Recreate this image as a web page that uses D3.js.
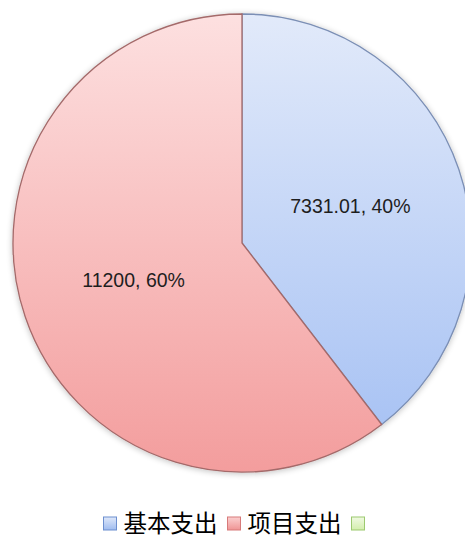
<!DOCTYPE html>
<html>
<head>
<meta charset="utf-8">
<script src="https://cdn.jsdelivr.net/npm/d3@7"></script>
<style>
html,body{margin:0;padding:0;background:#fff;}
svg{display:block;}
</style>
</head>
<body>
<svg id="chart" width="465" height="538"></svg>
<script>
const categories = ["基本支出", "项目支出", ""];
const values = [7331.01, 11200, 0];
const labels = ["7331.01, 40%", "11200, 60%", ""];

const W = 465, H = 538;
const cx = 242, cy = 243, R = 229;

const svg = d3.select("#chart");
const defs = svg.append("defs");

const palettes = [
  {top: "#e2eafa", bottom: "#a3bff3", stroke: "#7b8fb5", lg: ["#dfe8fa", "#9fbcef"], ls: "#6d8fcf"},
  {top: "#fde0e0", bottom: "#f39d9d", stroke: "#a46a6a", lg: ["#fbd0d0", "#ef9494"], ls: "#d77a7a"},
  {top: "#eef8e0", bottom: "#cfeaa8", stroke: "#8fb86a", lg: ["#f0f9e2", "#d3eeac"], ls: "#9cc96f"}
];

palettes.forEach((p, i) => {
  const g = defs.append("linearGradient").attr("id", "sg" + i)
    .attr("gradientUnits", "userSpaceOnUse")
    .attr("x1", 0).attr("y1", -R).attr("x2", 0).attr("y2", R);
  g.append("stop").attr("offset", "0%").attr("stop-color", p.top);
  g.append("stop").attr("offset", "100%").attr("stop-color", p.bottom);
  const lg = defs.append("linearGradient").attr("id", "lg" + i)
    .attr("x1", 0).attr("y1", 0).attr("x2", 0).attr("y2", 1);
  lg.append("stop").attr("offset", "0%").attr("stop-color", p.lg[0]);
  lg.append("stop").attr("offset", "100%").attr("stop-color", p.lg[1]);
});

const f = defs.append("filter").attr("id", "shadow")
  .attr("x", "-10%").attr("y", "-10%").attr("width", "120%").attr("height", "120%");
f.append("feGaussianBlur").attr("in", "SourceAlpha").attr("stdDeviation", 3).attr("result", "b");
f.append("feOffset").attr("in", "b").attr("dx", 0).attr("dy", 1).attr("result", "o");
f.append("feComponentTransfer").attr("in", "o").attr("result", "oa")
  .append("feFuncA").attr("type", "linear").attr("slope", 0.25);
const fm = f.append("feMerge");
fm.append("feMergeNode").attr("in", "oa");
fm.append("feMergeNode").attr("in", "SourceGraphic");

const data = categories.map((c, i) => ({cat: c, value: values[i], label: labels[i], i}));

const pie = d3.pie().sort(null).value(d => d.value);
const arc = d3.arc().innerRadius(0).outerRadius(R);
const arcs = pie(data);

const g = svg.append("g").attr("transform", `translate(${cx},${cy})`);

g.append("g").attr("filter", "url(#shadow)")
  .selectAll("path").data(arcs.filter(a => a.data.value > 0)).join("path")
  .attr("d", arc)
  .attr("fill", d => `url(#sg${d.data.i})`)
  .attr("stroke", d => palettes[d.data.i].stroke)
  .attr("stroke-width", 1.3);

g.selectAll("text.lbl").data(arcs.filter(a => a.data.value > 0)).join("text")
  .attr("class", "lbl")
  .attr("x", d => arc.centroid(d)[0])
  .attr("y", d => arc.centroid(d)[1])
  .attr("text-anchor", "middle")
  .attr("dominant-baseline", "central")
  .attr("font-family", "'Liberation Sans', Arial, sans-serif")
  .attr("font-size", 19.5)
  .attr("fill", "#1e1e1e")
  .text(d => d.data.label);

// legend
const leg = svg.append("g");
const sq = 14, gapT = 6, gapI = 10, legY = 522;
const items = leg.selectAll("g").data(data).join("g");
items.append("rect")
  .attr("width", sq - 1).attr("height", sq - 1)
  .attr("y", legY - sq / 2 + 2)
  .attr("fill", d => `url(#lg${d.i})`)
  .attr("stroke", d => palettes[d.i].ls)
  .attr("stroke-width", 1);
items.append("text")
  .attr("x", sq + gapT)
  .attr("y", legY)
  .attr("dominant-baseline", "central")
  .attr("font-family", "'Noto Sans CJK SC', sans-serif")
  .attr("font-size", 23.5)
  .attr("fill", "#000")
  .text(d => d.cat);
let x = 0;
items.each(function(d) {
  const t = d3.select(this).select("text").node();
  const w = d.cat ? t.getComputedTextLength() : 0;
  d3.select(this).attr("transform", `translate(${x},0)`);
  x += sq + (d.cat ? gapT + w : 0) + gapI;
});
leg.attr("transform", `translate(${103.5},0)`);
</script>
</body>
</html>
